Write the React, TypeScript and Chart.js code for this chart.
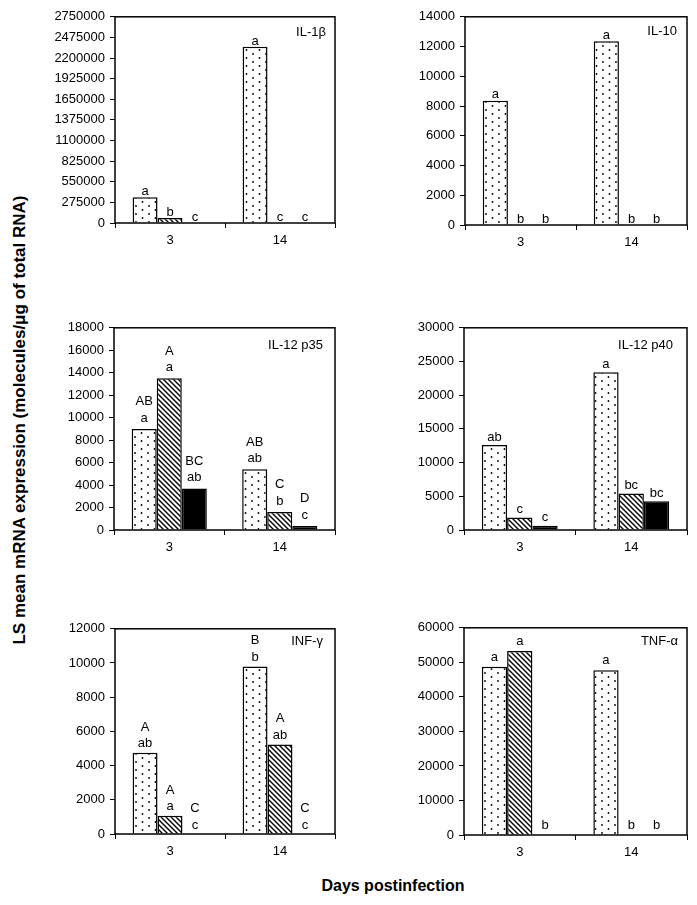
import { useEffect, useRef } from 'react';
import { Chart, registerables } from 'chart.js';

Chart.register(...registerables);

const FONT = "'Liberation Sans', Arial, sans-serif";
Chart.defaults.font.family = FONT;
Chart.defaults.color = '#000';

// days postinfection
const days = ['3', '14'];

// IL-1β
const il1bDotted = [342000, 2350000];
const il1bHatched = [66000, 0];
const il1bSolid = [0, 0];
const il1bLower = [['a', 'a'], ['b', 'c'], ['c', 'c']];

// IL-10
const il10Dotted = [8350, 12350];
const il10Hatched = [0, 0];
const il10Solid = [0, 0];
const il10Lower = [['a', 'a'], ['b', 'b'], ['b', 'b']];

// IL-12 p35
const p35Dotted = [9000, 5400];
const p35Hatched = [13500, 1600];
const p35Solid = [3700, 350];
const p35Lower = [['a', 'ab'], ['a', 'b'], ['ab', 'c']];
const p35Upper = [['AB', 'AB'], ['A', 'C'], ['BC', 'D']];

// IL-12 p40
const p40Dotted = [12600, 23400];
const p40Hatched = [1850, 5400];
const p40Solid = [620, 4250];
const p40Lower = [['ab', 'a'], ['c', 'bc'], ['c', 'bc']];

// INF-γ
const infDotted = [4750, 9800];
const infHatched = [1070, 5230];
const infSolid = [0, 0];
const infLower = [['ab', 'b'], ['a', 'ab'], ['c', 'c']];
const infUpper = [['A', 'B'], ['A', 'A'], ['C', 'C']];

// TNF-α
const tnfDotted = [48700, 47700];
const tnfHatched = [53300, 0];
const tnfSolid = [0, 0];
const tnfLower = [['a', 'a'], ['a', 'b'], ['b', 'b']];

type PanelCfg = {
  title: string;
  series: number[][];
  lower: string[][];
  upper?: string[][];
  max: number;
  step: number;
  // plot box in page pixels
  L: number; T: number; R: number; B: number;
  gap: number;
  tdx: number; tdy: number;
};

const panels: PanelCfg[] = [
  { title: 'IL-1β', series: [il1bDotted, il1bHatched, il1bSolid], lower: il1bLower, max: 2750000, step: 275000,
    L: 115, T: 14, R: 335, B: 223, gap: 2, tdx: 9, tdy: 16 },
  { title: 'IL-10', series: [il10Dotted, il10Hatched, il10Solid], lower: il10Lower, max: 14000, step: 2000,
    L: 465, T: 14, R: 687, B: 225, gap: 2.5, tdx: 10, tdy: 15 },
  { title: 'IL-12 p35', series: [p35Dotted, p35Hatched, p35Solid], lower: p35Lower, upper: p35Upper, max: 18000, step: 2000,
    L: 114, T: 325, R: 335, B: 530, gap: 7, tdx: 12, tdy: 18 },
  { title: 'IL-12 p40', series: [p40Dotted, p40Hatched, p40Solid], lower: p40Lower, max: 30000, step: 5000,
    L: 464, T: 325, R: 687, B: 530, gap: 4.5, tdx: 14, tdy: 18 },
  { title: 'INF-γ', series: [infDotted, infHatched, infSolid], lower: infLower, upper: infUpper, max: 12000, step: 2000,
    L: 115, T: 626, R: 335, B: 834, gap: 5.5, tdx: 12, tdy: 13 },
  { title: 'TNF-α', series: [tnfDotted, tnfHatched, tnfSolid], lower: tnfLower, max: 60000, step: 10000,
    L: 464, T: 625, R: 687, B: 835, gap: 6.3, tdx: 9, tdy: 14 },
];

function makeDots(ctx: CanvasRenderingContext2D) {
  const c = document.createElement('canvas');
  c.width = 13; c.height = 8;
  const g = c.getContext('2d')!;
  g.fillStyle = '#fff';
  g.fillRect(0, 0, 13, 8);
  g.fillStyle = '#000';
  g.beginPath(); g.arc(3, 2, 0.9, 0, Math.PI * 2); g.fill();
  g.beginPath(); g.arc(9.5, 6, 0.9, 0, Math.PI * 2); g.fill();
  return ctx.createPattern(c, 'repeat')!;
}

function makeHatch(ctx: CanvasRenderingContext2D) {
  const s = 5;
  const c = document.createElement('canvas');
  c.width = s; c.height = s;
  const g = c.getContext('2d')!;
  g.fillStyle = '#fff';
  g.fillRect(0, 0, s, s);
  g.strokeStyle = '#000';
  g.lineWidth = 1.4;
  g.beginPath();
  g.moveTo(-1, -1); g.lineTo(s + 1, s + 1);
  g.moveTo(-1, s - 1); g.lineTo(1, s + 1);
  g.moveTo(s - 1, -1); g.lineTo(s + 1, 1);
  g.stroke();
  return ctx.createPattern(c, 'repeat')!;
}

function Panel({ cfg }: { cfg: PanelCfg }) {
  const ref = useRef<HTMLCanvasElement>(null);

  useEffect(() => {
    const canvas = ref.current!;
    const ctx = canvas.getContext('2d')!;
    const fills = [makeDots(ctx), makeHatch(ctx), '#000'];

    const extras = {
      id: 'extras',
      afterDatasetsDraw(chart: any) {
        const c = chart.ctx;
        const a = chart.chartArea;
        c.save();
        // letters over the bars
        c.fillStyle = '#000';
        c.font = `13px ${FONT}`;
        c.textAlign = 'center';
        c.textBaseline = 'alphabetic';
        cfg.series.forEach((_, i) => {
          const meta = chart.getDatasetMeta(i);
          meta.data.forEach((el: any, j: number) => {
            const yb = el.y - cfg.gap;
            c.fillText(cfg.lower[i][j], el.x, yb);
            if (cfg.upper) c.fillText(cfg.upper[i][j], el.x, yb - 16.7);
          });
        });
        // panel name
        c.textAlign = 'right';
        c.textBaseline = 'middle';
        c.fillText(cfg.title, a.right - cfg.tdx, a.top + cfg.tdy);
        // box
        c.strokeStyle = '#000';
        c.lineWidth = 1.5;
        c.strokeRect(a.left, a.top, a.right - a.left, a.bottom - a.top);
        c.restore();
      },
    };

    const chart = new Chart(canvas, {
      type: 'bar',
      data: {
        labels: days,
        datasets: cfg.series.map((d, i) => ({
          data: d,
          backgroundColor: fills[i],
          borderColor: '#000',
          borderWidth: 1.5,
          categoryPercentage: 0.68,
          barPercentage: 1,
        })),
      },
      options: {
        animation: false,
        responsive: true,
        maintainAspectRatio: false,
        layout: { padding: { top: 10, right: 5, left: 0, bottom: 0 } },
        plugins: { legend: { display: false }, tooltip: { enabled: false } },
        scales: {
          x: {
            grid: { display: true, offset: true, drawOnChartArea: false, drawTicks: true, tickLength: 5, color: '#000', lineWidth: 1 },
            border: { display: false },
            ticks: { color: '#000', font: { size: 13 }, padding: 5, maxRotation: 0 },
            afterFit: (s: any) => { s.height = 30; },
          },
          y: {
            min: 0,
            max: cfg.max,
            grid: { display: true, drawOnChartArea: false, drawTicks: true, tickLength: 5, color: '#000', lineWidth: 1 },
            border: { display: false },
            ticks: { stepSize: cfg.step, color: '#000', font: { size: 13 }, padding: 5, callback: (v: any) => String(v) },
            afterFit: (s: any) => { s.width = 60; },
          },
        },
      },
      plugins: [extras],
    } as any);

    return () => chart.destroy();
  }, [cfg]);

  return (
    <div style={{
      position: 'absolute',
      left: cfg.L - 60,
      top: cfg.T - 10,
      width: cfg.R - cfg.L + 65,
      height: cfg.B - cfg.T + 40,
    }}>
      <canvas ref={ref} />
    </div>
  );
}

export default function App() {
  return (
    <div style={{ position: 'absolute', left: 0, top: 0, width: 697, height: 905, background: '#fff', fontFamily: FONT }}>
      {panels.map((p) => <Panel key={p.title} cfg={p} />)}
      <div style={{
        position: 'absolute', left: 20 - 300, top: 420 - 10, width: 600, height: 20, lineHeight: '20px',
        textAlign: 'center', fontWeight: 'bold', fontSize: 17, transform: 'rotate(-90deg)', whiteSpace: 'nowrap',
      }}>
        LS mean mRNA expression (molecules/μg of total RNA)
      </div>
      <div style={{
        position: 'absolute', left: 193, top: 876, width: 400, height: 20, lineHeight: '20px',
        textAlign: 'center', fontWeight: 'bold', fontSize: 16, whiteSpace: 'nowrap',
      }}>
        Days postinfection
      </div>
    </div>
  );
}
